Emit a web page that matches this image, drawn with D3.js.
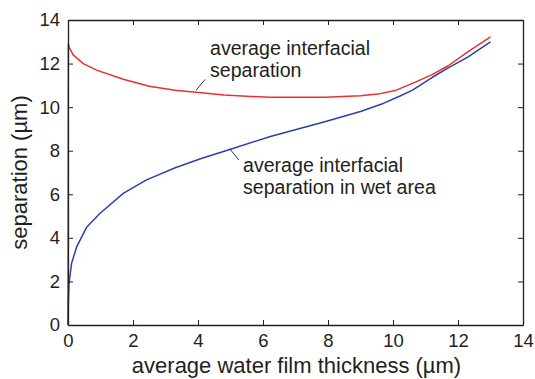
<!DOCTYPE html>
<html>
<head>
<meta charset="utf-8">
<script src="https://cdn.jsdelivr.net/npm/d3@7"></script>
<style>
  html, body { margin: 0; padding: 0; background: #fff; }
  svg text { font-family: "Liberation Sans", Arial, Helvetica, sans-serif; fill: #231f20; }
</style>
</head>
<body>
<svg id="chart" width="535" height="379"></svg>
<script>
// Average water film thickness (µm) and the two separations (µm)
const totalX   = [0, 0.01, 0.05, 0.16, 0.47, 0.88, 1.7, 2.5, 3.3, 4.1, 4.8, 6.2, 7.9, 9.0, 9.6, 10.1, 10.6, 11.2, 11.7, 12.3, 13.0];
const totalSep = [0, 12.9, 12.7, 12.4, 12.0, 11.7, 11.28, 10.96, 10.78, 10.66, 10.56, 10.45, 10.45, 10.52, 10.62, 10.78, 11.09, 11.49, 11.9, 12.54, 13.22];

const wetX   = [0, 0.01, 0.03, 0.11, 0.27, 0.58, 0.98, 1.7, 2.4, 3.3, 4.1, 5.0, 6.2, 7.9, 9.0, 9.7, 10.2, 10.6, 11.2, 11.7, 12.3, 13.0];
const wetSep = [0, 1.0, 1.9, 2.83, 3.6, 4.5, 5.12, 6.04, 6.65, 7.22, 7.64, 8.07, 8.64, 9.33, 9.8, 10.17, 10.5, 10.78, 11.36, 11.8, 12.3, 13.0];

const xTicks = [0, 2, 4, 6, 8, 10, 12, 14];
const yTicks = [0, 2, 4, 6, 8, 10, 12, 14];

const xTitle = "average water film thickness (\u00b5m)";
const yTitle = "separation (\u00b5m)";
const totalLabel = ["average interfacial", "separation"];
const wetLabel = ["average interfacial", "separation in wet area"];

(function draw() {
  const svg = d3.select("#chart");
  const m = { left: 68, right: 12, top: 20, bottom: 54 };
  const W = 535, H = 379;
  const x = d3.scaleLinear().domain([0, 14]).range([m.left, W - m.right]);
  const y = d3.scaleLinear().domain([0, 14]).range([H - m.bottom, m.top]);

  // Curves
  const line = d3.line().x(d => x(d[0])).y(d => y(d[1]));
  svg.append("path")
    .attr("d", line(d3.zip(totalX, totalSep)))
    .attr("fill", "none").attr("stroke", "#e8322b").attr("stroke-width", 1.5)
    .attr("stroke-linejoin", "round");
  svg.append("path")
    .attr("d", line(d3.zip(wetX, wetSep)))
    .attr("fill", "none").attr("stroke", "#2b41a6").attr("stroke-width", 1.5)
    .attr("stroke-linejoin", "round");

  // Axes with inward ticks on all four sides
  const tickLen = 5;
  const fs = "18.5px";
  const axBottom = svg.append("g").attr("transform", `translate(0,${y(0)})`)
    .call(d3.axisBottom(x).tickValues(xTicks).tickSizeInner(-tickLen).tickSizeOuter(0).tickPadding(9));
  const axLeft = svg.append("g").attr("transform", `translate(${x(0)},0)`)
    .call(d3.axisLeft(y).tickValues(yTicks).tickSizeInner(-tickLen).tickSizeOuter(0).tickPadding(8));
  const axTop = svg.append("g").attr("transform", `translate(0,${y(14)})`)
    .call(d3.axisTop(x).tickValues(xTicks).tickSizeInner(-tickLen).tickSizeOuter(0).tickFormat(""));
  const axRight = svg.append("g").attr("transform", `translate(${x(14)},0)`)
    .call(d3.axisRight(y).tickValues(yTicks).tickSizeInner(-tickLen).tickSizeOuter(0).tickFormat(""));

  [axBottom, axLeft, axTop, axRight].forEach(g => {
    g.select(".domain").attr("stroke", "#231f20").attr("stroke-width", 1.3);
    g.selectAll(".tick line").attr("stroke", "#231f20").attr("stroke-width", 1);
    g.selectAll(".tick text").attr("font-size", fs).attr("fill", "#231f20")
      .attr("font-family", "Liberation Sans, Arial, sans-serif");
  });

  // Axis titles
  svg.append("text")
    .attr("x", (x(0) + x(14)) / 2 + 1).attr("y", 373)
    .attr("text-anchor", "middle").attr("font-size", "22px")
    .text(xTitle);
  svg.append("text")
    .attr("transform", `translate(27,${(y(0) + y(14)) / 2}) rotate(-90)`)
    .attr("text-anchor", "middle").attr("font-size", "22px")
    .text(yTitle);

  // Curve annotations with leader lines
  function annotate(px, py, dx, dy, tx, ty, lines) {
    svg.append("line")
      .attr("x1", x(px)).attr("y1", y(py))
      .attr("x2", x(px) + dx).attr("y2", y(py) + dy)
      .attr("stroke", "#231f20").attr("stroke-width", 0.9);
    const t = svg.append("text").attr("font-size", "19.6px");
    lines.forEach((s, i) => {
      t.append("tspan").attr("x", tx).attr("y", ty + i * 22).text(s);
    });
  }
  annotate(3.94, 10.77, 9, -11, 210, 55, totalLabel);
  annotate(4.98, 8.08, 9, 11, 243, 172, wetLabel);
})();
</script>
</body>
</html>
